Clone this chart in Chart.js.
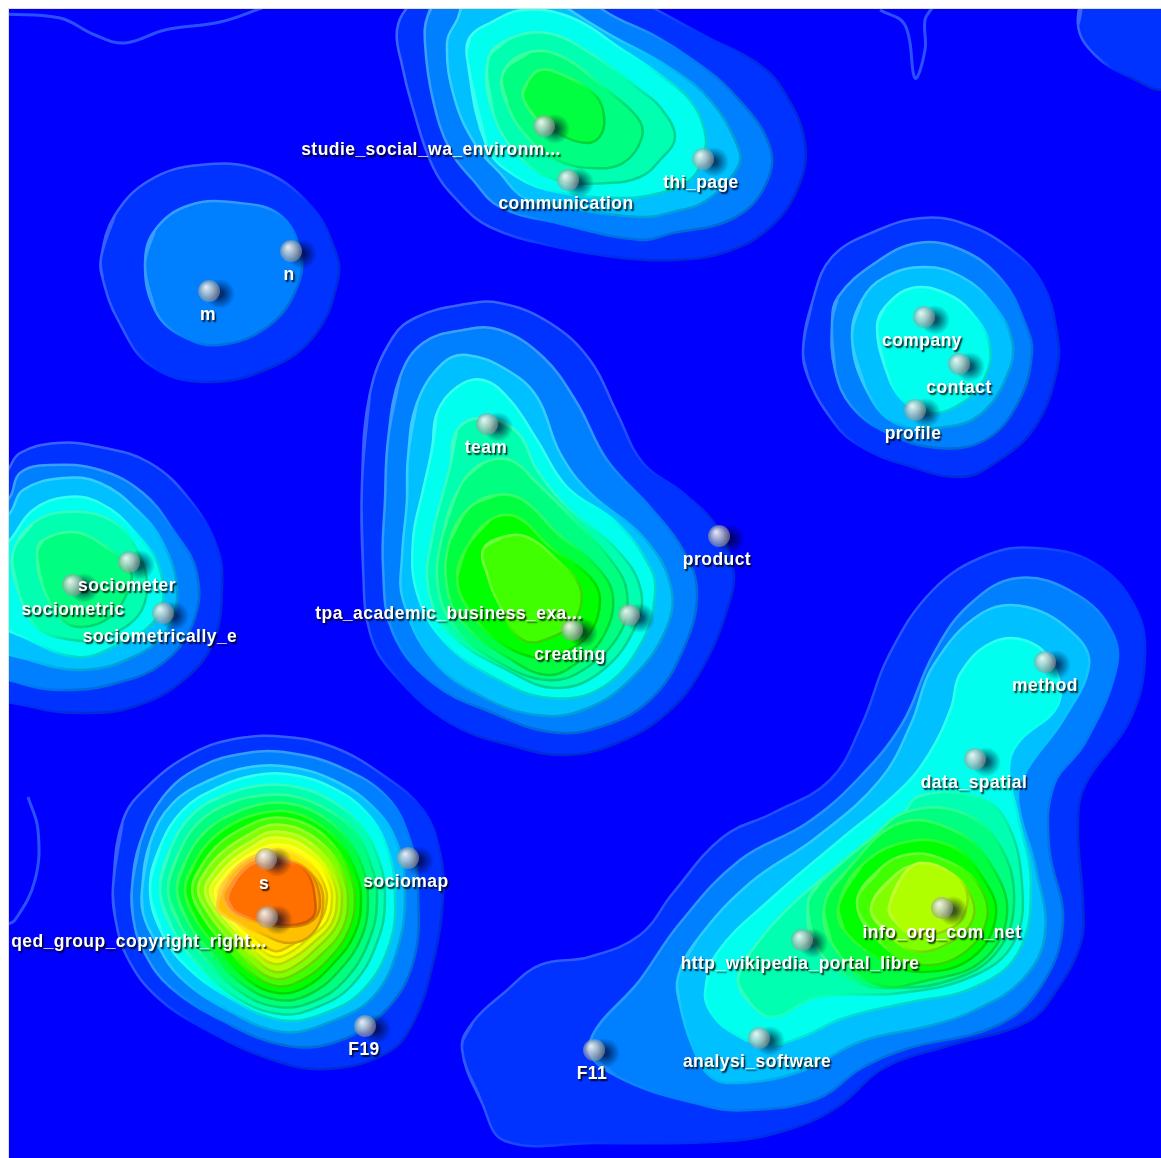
<!DOCTYPE html>
<html><head><meta charset="utf-8">
<style>html,body{margin:0;padding:0;background:#fff}canvas{display:block}</style>
<script src="https://cdn.jsdelivr.net/npm/chart.js@4/dist/chart.umd.min.js"></script>
</head><body>
<canvas id="c" width="1161" height="1158" style="width:1161px;height:1158px"></canvas>
<script>
const levelColors=['#0033ff','#0080ff','#00c0ff','#00ffee','#00ffb0','#00ff80','#00ff40','#00ff00','#40ff00','#80ff00','#b0ff00','#e0ff00','#ffff00','#ffe000','#ffc000','#ffa000','#ff7000'];

// Contours: each list is one iso-level ring, index = level
const hillTop=[
[[440,-10],[410,5],[397,30],[402,65],[412,105],[433,167],[457,200],[490,227],[557,247],[623,258],[673,260],[723,253],[767,230],[797,190],[805,143],[783,90],[757,63],[707,37],[657,10],[620,-10]],
[[445,-10],[428,15],[425,43],[433,100],[450,150],[473,180],[500,207],[557,223],[640,240],[673,233],[730,220],[763,190],[770,147],[730,90],[690,58],[657,37],[603,10],[587,-10]],
[[470,-5],[457,20],[447,43],[455,100],[477,147],[500,173],[523,197],[563,207],[640,217],[673,212],[707,200],[738,167],[738,147],[710,100],[670,68],[607,33],[570,10],[550,-5]],
[[467,57],[487,147],[517,177],[557,192],[623,198],[660,193],[690,180],[703,157],[705,133],[690,100],[660,75],[623,50],[570,17],[523,10],[490,23],[470,37]],
[[488,60],[493,113],[520,157],[557,180],[607,183],[640,177],[660,160],[675,137],[660,107],[640,90],[590,53],[547,33],[507,40]],
[[503,73],[508,107],[530,140],[557,160],[590,168],[623,163],[642,137],[637,117],[603,87],[563,57],[530,52]],
[[523,97],[537,120],[557,133],[587,143],[602,133],[603,110],[593,93],[563,75],[540,70],[527,83]]
];
const hillMN=[
[[101,258],[115,215],[150,180],[200,165],[260,170],[310,205],[335,250],[338,280],[315,335],[270,368],[205,382],[150,365],[118,320],[103,280]],
[[145,265],[155,230],[190,205],[240,203],[280,215],[300,250],[298,285],[270,325],[220,345],[180,335],[155,310]]
];
const hillTeam=[
[[362,483],[370,393],[393,337],[417,317],[460,305],[500,303],[550,323],[590,360],[617,413],[643,463],[683,493],[717,527],[733,567],[730,600],[703,667],[667,713],[617,743],[567,755],[517,747],[450,723],[393,673],[370,633],[363,567]],
[[388,440],[400,377],[423,343],[463,330],[500,330],[543,357],[577,403],[607,460],[650,507],[683,550],[697,593],[683,650],[650,700],[600,727],[550,732],[493,713],[433,683],[393,633],[383,567],[385,500]],
[[408,457],[417,403],[443,363],[467,355],[507,370],[537,397],[560,453],[590,493],[643,537],[670,583],[667,627],[630,680],[583,710],[537,715],[483,697],[433,660],[403,600],[402,557],[407,500]],
[[432,450],[437,413],[457,387],[483,380],[510,400],[537,440],[567,487],[617,523],[650,567],[655,593],[643,640],[603,687],[550,698],[493,677],[443,640],[417,593],[413,540],[423,490]],
[[450,467],[457,430],[483,418],[517,432],[537,470],[567,507],[617,550],[640,587],[637,623],[603,670],[557,688],[507,670],[450,633],[428,587],[433,533],[443,493]],
[[462,483],[483,463],[510,460],[537,483],[577,523],[613,563],[627,593],[620,633],[583,670],[547,680],[500,663],[457,630],[438,587],[443,533]],
[[470,507],[497,495],[523,500],[557,533],[597,567],[613,597],[603,637],[577,663],[547,675],[507,657],[463,623],[447,587],[450,540]],
[[467,547],[490,520],[517,517],[550,547],[590,577],[600,600],[590,633],[563,653],[537,658],[497,640],[467,607],[457,577]],
[[483,550],[503,537],[527,537],[557,560],[580,587],[577,617],[557,635],[523,640],[497,600],[488,577]]
];
const hillCompany=[
[[803,350],[812,303],[832,257],[878,230],[922,218],[962,223],[1008,247],[1042,283],[1057,333],[1057,370],[1035,427],[995,463],[962,477],[912,467],[855,443],[825,410],[808,377]],
[[832,323],[838,297],[875,263],[918,243],[962,250],[1002,280],[1025,323],[1032,353],[1018,403],[985,440],[938,448],[888,433],[852,407],[835,370]],
[[852,337],[862,300],[885,277],[925,267],[962,277],[992,303],[1012,340],[1008,373],[982,413],[945,427],[895,423],[865,387]],
[[877,327],[885,307],[912,288],[945,293],[972,313],[990,347],[982,383],[955,407],[928,413],[902,400],[885,367]]
];
const hillSocio=[
[[-10,497],[8,470],[20,453],[57,443],[100,447],[150,463],[190,500],[217,547],[222,587],[213,643],[180,683],[133,707],[87,713],[33,707],[-10,687]],
[[-10,520],[10,497],[20,473],[50,465],[100,470],[143,493],[173,530],[197,573],[193,623],[163,663],[117,683],[67,690],[20,683],[-10,665]],
[[-10,530],[10,513],[23,490],[63,478],[100,483],[137,510],[163,543],[177,590],[167,630],[133,657],[83,670],[30,660],[-10,640]],
[[-10,560],[10,540],[33,510],[67,497],[100,503],[133,530],[160,570],[157,617],[113,647],[77,657],[30,640],[-10,615]],
[[13,553],[33,523],[67,512],[110,520],[137,550],[147,587],[137,617],[103,637],[73,640],[37,627],[18,590]],
[[37,553],[43,540],[73,532],[100,543],[130,570],[127,593],[110,617],[83,627],[63,620],[43,587]]
];
const hillMethod=[
[[462,1049],[473,1022],[505,992],[540,965],[589,957],[640,935],[673,893],[723,837],[773,813],[830,780],[862,724],[889,655],[933,590],[987,555],[1036,548],[1094,563],[1134,605],[1145,655],[1130,720],[1085,785],[1078,827],[1083,904],[1081,942],[1058,988],[1027,1022],[951,1045],[884,1068],[839,1106],[790,1129],[728,1141],[594,1143],[505,1141],[482,1103]],
[[589,1045],[640,980],[680,923],[740,860],[807,823],[857,780],[902,724],[933,655],[969,605],[1018,578],[1076,594],[1112,632],[1116,670],[1085,743],[1054,785],[1049,846],[1063,923],[1040,988],[996,1026],[906,1049],[862,1068],[817,1099],[750,1110],[706,1106],[616,1076]],
[[678,977],[697,940],[750,883],[817,837],[880,780],[911,724],[933,666],[982,613],[1027,607],[1076,636],[1089,666],[1063,720],[1027,770],[1018,800],[1036,869],[1045,934],[1022,980],[973,1011],[929,1026],[862,1041],[799,1072],[737,1083],[710,1076],[692,1045],[680,1005]],
[[705,993],[717,953],[773,897],[840,840],[900,790],[929,754],[951,708],[960,674],[991,643],[1027,641],[1054,666],[1058,705],[1018,743],[1009,770],[1018,816],[1031,884],[1018,953],[973,988],[906,1003],[844,1018],[799,1038],[764,1045],[728,1030],[710,1011]],
[[738,980],[750,953],[797,900],[860,850],[900,817],[920,796],[973,796],[1005,819],[1022,884],[1014,942],[973,976],[900,993],[817,997],[773,1017],[750,1003]],
[[808,903],[820,883],[873,837],[906,812],[960,812],[1000,846],[1014,904],[996,953],[951,980],[889,988],[853,980],[815,945]],
[[825,903],[847,870],[900,823],[955,831],[991,865],[1007,915],[982,961],[929,980],[875,984],[831,942]],
[[839,904],[862,865],[906,842],[951,846],[982,877],[996,915],[973,957],[924,972],[884,961],[844,930]],
[[857,904],[880,869],[911,854],[947,861],[978,884],[987,919],[964,953],[924,965],[884,946]],
[[871,907],[893,877],[916,865],[947,873],[969,892],[973,919],[951,942],[915,951],[884,930]],
[[889,907],[902,877],[920,863],[951,873],[967,892],[962,919],[947,930],[915,936],[893,919]]
];
const hillS=[
[[113,887],[123,820],[147,787],[193,753],[240,738],[287,737],[333,747],[380,773],[423,810],[440,853],[443,897],[433,963],[413,1023],[387,1053],[327,1069],[273,1060],[207,1030],[157,997],[127,957],[115,917]],
[[132,887],[140,843],[163,797],[200,767],[247,753],[290,753],[340,767],[387,797],[410,840],[418,890],[413,963],[383,1013],[333,1043],[283,1045],[227,1023],[170,987],[143,950],[133,917]],
[[142,890],[150,843],[173,803],[210,780],[250,767],[290,767],[333,780],[373,807],[397,843],[405,890],[398,947],[373,997],[327,1023],[283,1032],[233,1013],[180,977],[155,940],[143,913]],
[[150,890],[160,847],[183,810],[217,788],[257,775],[293,775],[333,788],[367,813],[388,850],[395,893],[390,943],[363,990],[320,1015],[280,1020],[233,1000],[187,967],[162,933]],
[[160,890],[170,850],[192,815],[225,795],[265,785],[297,787],[330,800],[360,825],[378,858],[385,895],[378,940],[352,985],[315,1008],[280,1014],[237,998],[197,963],[172,928]],
[[168,890],[178,855],[198,823],[230,803],[267,795],[297,797],[328,810],[355,832],[370,862],[377,895],[370,938],[345,980],[312,1002],[278,1007],[242,993],[205,958],[180,925]],
[[177,890],[187,858],[207,830],[237,812],[268,803],[297,805],[325,818],[348,840],[362,866],[368,897],[362,936],[338,972],[308,995],[278,1000],[245,986],[212,954],[188,922]],
[[185,890],[195,862],[213,838],[240,820],[268,812],[295,813],[322,826],[342,846],[355,870],[361,897],[355,933],[332,965],[304,988],[277,993],[248,980],[219,950],[196,920]],
[[192,890],[202,865],[220,843],[245,827],[270,818],[295,820],[320,832],[338,851],[349,872],[355,897],[349,930],[328,960],[300,981],[276,986],[250,972],[225,945],[203,917]],
[[198,890],[208,868],[225,850],[248,835],[270,825],[294,827],[315,838],[333,855],[343,875],[348,897],[343,928],[322,954],[297,973],[275,979],[252,965],[230,940],[209,914]],
[[205,890],[214,872],[230,855],[250,842],[270,832],[293,834],[312,844],[328,860],[338,878],[342,897],[337,925],[317,948],[295,966],[275,972],[254,958],[234,935],[214,911]],
[[210,890],[219,875],[233,860],[252,847],[270,838],[292,840],[310,850],[324,864],[333,880],[337,897],[332,923],[313,943],[293,958],[274,964],[254,951],[236,931],[218,909]],
[[215,892],[223,877],[237,863],[254,852],[272,845],[290,846],[307,855],[321,867],[329,882],[332,897],[327,921],[309,938],[291,952],[274,957],[255,945],[237,927],[221,907]],
[[218,892],[227,878],[240,866],[256,857],[273,850],[289,851],[304,859],[316,870],[324,884],[327,898],[322,918],[306,934],[290,946],[274,951],[255,938],[237,923],[224,905]],
[[217,907],[228,877],[257,855],[287,858],[317,880],[323,907],[313,933],[290,943],[260,933],[227,917]],
[[223,897],[233,877],[257,858],[287,860],[310,873],[320,900],[313,920],[287,927],[257,922],[233,913]],
[[228,897],[237,878],[257,862],[287,862],[307,873],[315,900],[312,918],[290,925],[257,920],[233,910]]
];
const hillCorner=[
[[1090,-5],[1078,25],[1095,55],[1130,77],[1165,88],[1175,40],[1175,-5]]
];
const thinContours=[
[[5,14],[60,18],[95,35],[125,43],[165,30],[220,22],[262,8]],
[[880,10],[905,25],[915,78],[925,50],[925,20],[932,8]],
[[28,797],[38,830],[35,880],[15,920],[5,925]]
];

// Nodes
const nodeX=[544,568,703,291,209,924,959,915,487,719,129,73,163,629,572,266,267,408,365,594,1045,975,942,802,759];
const nodeY=[126,180,159,251,291,317,364,410,424,536,562,585,613,615,630,859,917,858,1026,1050,662,759,908,940,1038];

// Labels
const labelText=['studie_social_wa_environm...','communication','thi_page','n','m','company','contact','profile','team','product','sociometer','sociometric','sociometrically_e','tpa_academic_business_exa...','creating','s','qed_group_copyright_right...','sociomap','F19','F11','method','data_spatial','info_org_com_net','http_wikipedia_portal_libre','analysi_software'];
const labelX=[431,566,701,289,208,922,959,913,486,717,127,73,160,449,570,264,139,406,364,592,1045,974,942,800,757];
const labelY=[150,204,183,275,315,341,388,434,448,560,586,610,637,614,655,884,942,882,1050,1074,686,783,933,964,1062];

function mix(hex,t,target){
  const n=parseInt(hex.slice(1),16),r=n>>16,g=(n>>8)&255,b=n&255;
  const m=v=>Math.round(v+(target-v)*t);
  return 'rgb('+m(r)+','+m(g)+','+m(b)+')';
}
function ringData(ring){
  const c=[ring[ring.length-1],...ring,ring[0],ring[1]];
  return c.map(p=>({x:p[0],y:p[1]}));
}
function edgeColor(color,ring){
  return function(ctx){
    const chart=ctx.chart,sx=chart.scales.x,sy=chart.scales.y;
    if(!sx||!sy||!chart.chartArea) return color;
    const xs=ring.map(p=>p[0]),ys=ring.map(p=>p[1]);
    const g=chart.ctx.createLinearGradient(sx.getPixelForValue(Math.min(...xs)),sy.getPixelForValue(Math.min(...ys)),sx.getPixelForValue(Math.max(...xs)),sy.getPixelForValue(Math.max(...ys)));
    g.addColorStop(0,mix(color,0.25,255));
    g.addColorStop(0.42,mix(color,0.18,255));
    g.addColorStop(0.56,color);
    g.addColorStop(0.72,mix(color,0.14,0));
    g.addColorStop(1,mix(color,0.2,0));
    return g;
  };
}
const hills=[hillTop,hillMN,hillTeam,hillCompany,hillSocio,hillMethod,hillS,hillCorner];
const layers=[];
hills.forEach(h=>h.forEach((ring,i)=>{
  layers.push({type:'scatter',showLine:true,data:ringData(ring),tension:0.4,fill:'shape',
    backgroundColor:levelColors[i],borderColor:edgeColor(levelColors[i],ring),borderWidth:2.5,pointRadius:0,pointHoverRadius:0});
}));
thinContours.forEach(line=>{
  layers.push({type:'scatter',showLine:true,fill:false,data:line.map(p=>({x:p[0],y:p[1]})),tension:0.4,
    borderColor:'#2b50ff',borderWidth:3,pointRadius:0,pointHoverRadius:0});
});

function makeBall(){
  const s=64,c=document.createElement('canvas');c.width=s;c.height=s;
  const x=c.getContext('2d'),m=s/2;
  let g=x.createRadialGradient(m+11,m+3,3,m+11,m+3,15);
  g.addColorStop(0,'rgba(0,0,40,.65)');g.addColorStop(1,'rgba(0,0,40,0)');
  x.fillStyle=g;x.beginPath();x.arc(m+11,m+3,15,0,7);x.fill();
  g=x.createRadialGradient(m-3,m-4,1,m,m,11);
  g.addColorStop(0,'rgba(240,240,240,.92)');
  g.addColorStop(.5,'rgba(205,205,205,.74)');
  g.addColorStop(.85,'rgba(165,165,165,.62)');
  g.addColorStop(1,'rgba(150,150,150,.55)');
  x.fillStyle=g;x.beginPath();x.arc(m,m,11,0,7);x.fill();
  return c;
}
const ball=makeBall();
const nodeSet={type:'scatter',data:nodeX.map((x,i)=>({x,y:nodeY[i]})),pointStyle:ball,pointRadius:11,pointHoverRadius:11,showLine:false,clip:false};

const framePlugin={id:'frame',
  beforeDraw(chart){
    const c=chart.ctx,a=chart.chartArea;
    c.save();c.fillStyle='#0000ff';c.fillRect(a.left,a.top,a.right-a.left,a.bottom-a.top);
    c.fillStyle='#e4e0d4';c.fillRect(a.left-1,a.top-1,a.right-a.left+1,1);c.fillRect(a.left-1,a.top-1,1,a.bottom-a.top+1);
    c.restore();
  }
};
const labelPlugin={id:'labels',
  afterDatasetsDraw(chart){
    const c=chart.ctx,sx=chart.scales.x,sy=chart.scales.y;
    c.save();
    c.font='bold 17.5px "Liberation Sans",sans-serif';
    c.letterSpacing='0.45px';
    c.textAlign='center';c.textBaseline='middle';c.fillStyle='#fff';
    c.shadowColor='rgba(0,0,0,.85)';c.shadowOffsetX=1.5;c.shadowOffsetY=1.5;c.shadowBlur=1.5;
    labelText.forEach((t,i)=>c.fillText(t,sx.getPixelForValue(labelX[i]),sy.getPixelForValue(labelY[i])+0.5));
    c.restore();
  }
};
new Chart(document.getElementById('c'),{
  type:'scatter',
  data:{datasets:[nodeSet,...layers.reverse()]},
  options:{
    responsive:false,animation:false,
    layout:{autoPadding:false,padding:{left:9,top:9,right:0,bottom:0}},
    elements:{line:{capBezierPoints:false}},
    plugins:{legend:{display:false},tooltip:{enabled:false},title:{display:false}},
    events:[],
    scales:{
      x:{type:'linear',min:9,max:1161,display:false},
      y:{type:'linear',min:9,max:1158,reverse:true,display:false}
    }
  },
  plugins:[framePlugin,labelPlugin]
});
</script>
</body></html>
